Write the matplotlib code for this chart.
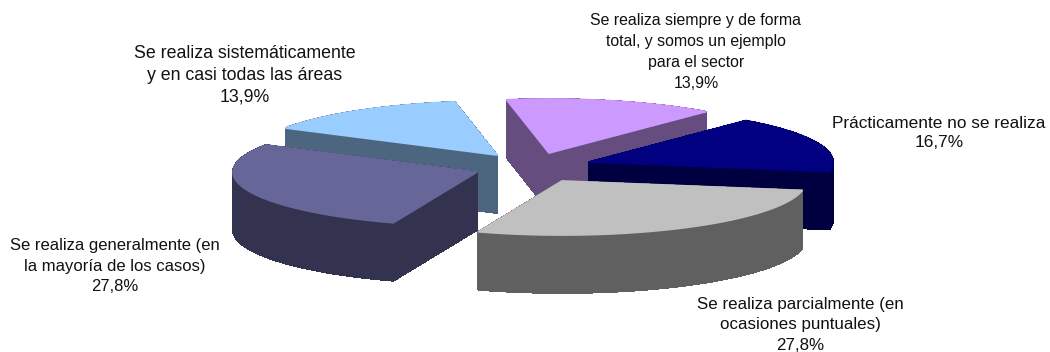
import numpy as np
import matplotlib
matplotlib.use("Agg")
import matplotlib.pyplot as plt
from matplotlib.patches import Polygon

categories = ["Prácticamente no se realiza",
              "Se realiza parcialmente (en\nocasiones puntuales)",
              "Se realiza generalmente (en\nla mayoría de los casos)",
              "Se realiza sistemáticamente\ny en casi todas las áreas",
              "Se realiza siempre y de forma\ntotal, y somos un ejemplo\npara el sector"]
values = [16.7, 27.8, 27.8, 13.9, 13.9]

top_colors = ["#000080", "#C0C0C0", "#666699", "#99CCFF", "#CC99FF"]
side_colors = ["#000040", "#606060", "#333350", "#4D6680", "#664D80"]
apexes = [(589, 162), (562, 181), (477, 172), (497, 155), (549, 153)]
label_pos = [(939, 133), (800, 325), (115, 266), (245, 75), (696, 52)]
label_sizes = [12.4, 12.2, 12.0, 12.8, 11.4]
draw_order = [4, 3, 0, 2, 1]
RX, RY, DEPTH, START = 244, 54, 58, 50

plt.rcParams["font.family"] = ["Liberation Sans", "DejaVu Sans"]
fig = plt.figure(figsize=(10.5, 3.52), dpi=100)
ax = fig.add_axes([0, 0, 1, 1])
ax.set_xlim(0, 1050)
ax.set_ylim(352, 0)
ax.axis("off")

# Each wedge spans an angle proportional to its value, clockwise from START.
sweeps = np.array(values) / sum(values) * 360
ends = START - np.cumsum(sweeps)
starts = ends + sweeps

for i in draw_order:
    cx, cy = apexes[i]
    t = np.radians(np.linspace(starts[i], ends[i], 60))
    xs = np.r_[cx, cx + RX * np.cos(t)]
    ys = np.r_[cy, cy - RY * np.sin(t)]
    n = len(xs)
    z = 2 + draw_order.index(i) * 2
    for a in range(n):
        b = (a + 1) % n
        ax.add_patch(Polygon([(xs[a], ys[a]), (xs[b], ys[b]),
                              (xs[b], ys[b] + DEPTH), (xs[a], ys[a] + DEPTH)],
                             closed=True, fc=side_colors[i], ec=side_colors[i],
                             lw=0.6, antialiased=False, zorder=z))
    ax.add_patch(Polygon(np.c_[xs, ys], closed=True, fc=top_colors[i],
                         ec=top_colors[i], lw=1.3, joinstyle="round", zorder=z + 1))

for name, v, (lx, ly), fs in zip(categories, values, label_pos, label_sizes):
    ax.text(lx, ly, f"{name}\n{v:.1f}%".replace(".", ","), ha="center", va="center",
            fontsize=fs, color="#111111", linespacing=17.4 / fs, zorder=20)

fig.savefig("out.png", dpi=100)
